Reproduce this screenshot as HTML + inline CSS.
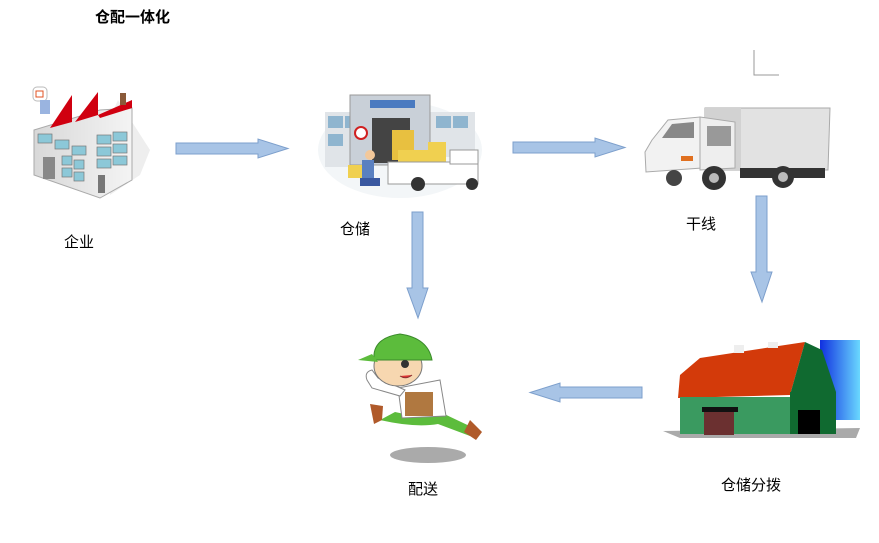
<!DOCTYPE html>
<html><head><meta charset="utf-8"><style>
html,body{margin:0;padding:0;background:#fff;}
svg{display:block;}
text{font-family:"Liberation Sans","Noto Sans CJK SC",sans-serif;fill:#000;}
</style></head><body>
<svg width="879" height="543" viewBox="0 0 879 543" xmlns="http://www.w3.org/2000/svg">
<defs>
<linearGradient id="silo" x1="0" x2="1"><stop offset="0" stop-color="#1030e0"/><stop offset="1" stop-color="#6ad8ff"/></linearGradient>
<linearGradient id="wall" x1="0" x2="1"><stop offset="0" stop-color="#d8d8d8"/><stop offset="1" stop-color="#f4f4f4"/></linearGradient>
</defs>
<text x="95" y="22" font-size="15" font-weight="bold">仓配一体化</text>
<!-- corner mark -->
<path d="M754 50 V75 H779" fill="none" stroke="#999" stroke-width="1"/>

<!-- factory -->
<g>
<rect x="33" y="87" width="14" height="14" rx="4" fill="#fff" stroke="#bbb"/>
<rect x="36" y="91" width="7" height="6" fill="none" stroke="#e05020"/>
<rect x="40" y="100" width="10" height="14" fill="#9ab4e0"/>
<polygon points="118,100 150,150 140,175 110,195 110,118" fill="#eee"/>
<polygon points="34,130 100,110 132,108 132,180 100,198 34,175" fill="url(#wall)" stroke="#aaa"/>
<polygon points="50,128 72,95 72,122" fill="#d00010"/>
<polygon points="75,122 98,92 98,115" fill="#d00010"/>
<polygon points="98,115 132,100 132,108 100,118" fill="#d00010"/>
<rect x="120" y="93" width="6" height="12" fill="#8a5a3a"/>
<g fill="#8cc8d8" stroke="#777" stroke-width=".7">
<rect x="38" y="134" width="14" height="9"/><rect x="55" y="140" width="14" height="9"/><rect x="72" y="146" width="14" height="9"/>
<rect x="62" y="156" width="10" height="9"/><rect x="74" y="160" width="10" height="9"/>
<rect x="62" y="168" width="10" height="9"/><rect x="74" y="172" width="10" height="9"/>
<rect x="97" y="135" width="14" height="9"/><rect x="113" y="132" width="14" height="9"/>
<rect x="97" y="147" width="14" height="9"/><rect x="113" y="144" width="14" height="9"/>
<rect x="97" y="159" width="14" height="9"/><rect x="113" y="156" width="14" height="9"/>
</g>
<rect x="43" y="157" width="12" height="22" fill="#888"/>
<rect x="98" y="175" width="7" height="18" fill="#777"/>
</g>
<text x="64" y="247" font-size="15">企业</text>

<!-- arrows -->
<polygon points="176,143 258,143 258,139 288,148.5 258,158 258,154 176,154" fill="#a8c4e6" stroke="#7d9fcc"/>
<polygon points="513,142 595,142 595,138 625,147.5 595,157 595,153 513,153" fill="#a8c4e6" stroke="#7d9fcc"/>
<polygon points="412,212 423,212 423,288 428,288 418,318 407,288 412,288" fill="#a8c4e6" stroke="#7d9fcc"/>
<polygon points="756,196 767,196 767,272 772,272 762,302 751,272 756,272" fill="#a8c4e6" stroke="#7d9fcc"/>
<polygon points="642,387 560,387 560,383 530,392.5 560,402 560,398 642,398" fill="#a8c4e6" stroke="#7d9fcc"/>

<!-- warehouse -->
<g>
<ellipse cx="400" cy="150" rx="82" ry="48" fill="#f3f6f8"/>
<rect x="325" y="112" width="40" height="55" fill="#e0e4e8"/>
<rect x="430" y="112" width="45" height="45" fill="#e0e4e8"/>
<g fill="#8fb5cf"><rect x="328" y="116" width="15" height="12"/><rect x="345" y="116" width="15" height="12"/><rect x="436" y="116" width="15" height="12"/><rect x="453" y="116" width="15" height="12"/><rect x="328" y="134" width="15" height="12"/></g>
<rect x="350" y="95" width="80" height="70" fill="#c9d0d8" stroke="#999"/>
<rect x="370" y="100" width="45" height="8" fill="#4a7ac0"/>
<rect x="372" y="118" width="38" height="45" fill="#444"/>
<rect x="392" y="130" width="22" height="30" fill="#e8c040"/>
<circle cx="361" cy="133" r="6" fill="#fff" stroke="#d02020" stroke-width="2"/>
<rect x="398" y="150" width="45" height="18" fill="#f0d050"/>
<rect x="428" y="142" width="18" height="20" fill="#f0d050"/>
<rect x="388" y="162" width="90" height="22" fill="#fff" stroke="#999"/>
<rect x="450" y="150" width="28" height="14" fill="#fff" stroke="#999"/>
<circle cx="418" cy="184" r="7" fill="#333"/><circle cx="472" cy="184" r="6" fill="#333"/>
<rect x="348" y="165" width="18" height="13" fill="#f0d050"/>
<rect x="362" y="160" width="12" height="20" fill="#5a80c0"/>
<circle cx="370" cy="155" r="5" fill="#f3c89a"/>
<rect x="360" y="178" width="20" height="8" fill="#3a58a0"/>
</g>
<text x="340" y="234" font-size="15">仓储</text>

<!-- truck -->
<g>
<polygon points="705,108 830,108 828,170 705,170" fill="#e2e2e2" stroke="#aaa"/>
<rect x="705" y="108" width="36" height="62" fill="#d2d2d2"/>
<polygon points="652,140 668,120 700,117 702,168 646,172 645,152" fill="#f2f2f2" stroke="#aaa"/>
<polygon points="662,138 672,124 694,122 694,138" fill="#888"/>
<polygon points="700,117 735,122 735,168 700,170" fill="#eee" stroke="#aaa"/>
<rect x="707" y="126" width="24" height="20" fill="#999"/>
<rect x="681" y="156" width="12" height="5" fill="#e07020"/>
<rect x="740" y="168" width="85" height="10" fill="#333"/>
<circle cx="714" cy="178" r="12" fill="#333"/><circle cx="714" cy="178" r="5" fill="#bbb"/>
<circle cx="783" cy="177" r="11" fill="#333"/><circle cx="783" cy="177" r="5" fill="#bbb"/>
<circle cx="674" cy="178" r="8" fill="#444"/>
</g>
<text x="686" y="229" font-size="15">干线</text>

<!-- delivery man -->
<g>
<ellipse cx="428" cy="455" rx="38" ry="8" fill="#aaa"/>
<path d="M395 412 Q420 418 440 412 L478 430 L470 436 L438 424 Q415 428 380 420 Z" fill="#5cbc3c"/>
<polygon points="370,404 383,406 382,420 374,424" fill="#b05a2a"/>
<polygon points="470,420 482,432 476,440 464,432" fill="#b05a2a"/>
<polygon points="398,388 440,380 446,416 402,418" fill="#fff" stroke="#888"/>
<rect x="405" y="392" width="28" height="24" fill="#b07840"/>
<path d="M367 380 Q364 372 372 370 L378 378 L405 390 L400 396 L372 388 Z" fill="#fff" stroke="#888"/>
<ellipse cx="398" cy="366" rx="24" ry="20" fill="#f7d7b0" stroke="#777"/>
<path d="M374 360 Q372 338 400 334 Q428 338 432 360 Z" fill="#5cbc3c" stroke="#3a8a2a"/>
<path d="M372 354 L358 360 L378 362 Z" fill="#5cbc3c"/>
<circle cx="405" cy="364" r="4" fill="#333"/>
<path d="M400 376 Q406 380 412 375" fill="#d33" stroke="#833"/>
</g>
<text x="408" y="494" font-size="15">配送</text>

<!-- barn -->
<g>
<rect x="820" y="340" width="40" height="80" fill="url(#silo)"/>
<polygon points="663,431 860,428 856,438 680,438" fill="#aaa"/>
<polygon points="680,375 700,358 805,342 790,395 678,398" fill="#d33a0a"/>
<polygon points="790,395 805,342 822,350 836,392" fill="#106a30"/>
<rect x="680" y="397" width="110" height="37" fill="#3a9a60"/>
<rect x="790" y="392" width="46" height="42" fill="#106a30"/>
<rect x="704" y="410" width="30" height="25" fill="#6b3030"/>
<rect x="702" y="407" width="36" height="5" fill="#111"/>
<rect x="798" y="410" width="22" height="24" fill="#000"/>
<rect x="734" y="345" width="10" height="8" fill="#eee"/><rect x="768" y="342" width="10" height="6" fill="#eee"/>
</g>
<text x="721" y="490" font-size="15">仓储分拨</text>
</svg>
</body></html>
